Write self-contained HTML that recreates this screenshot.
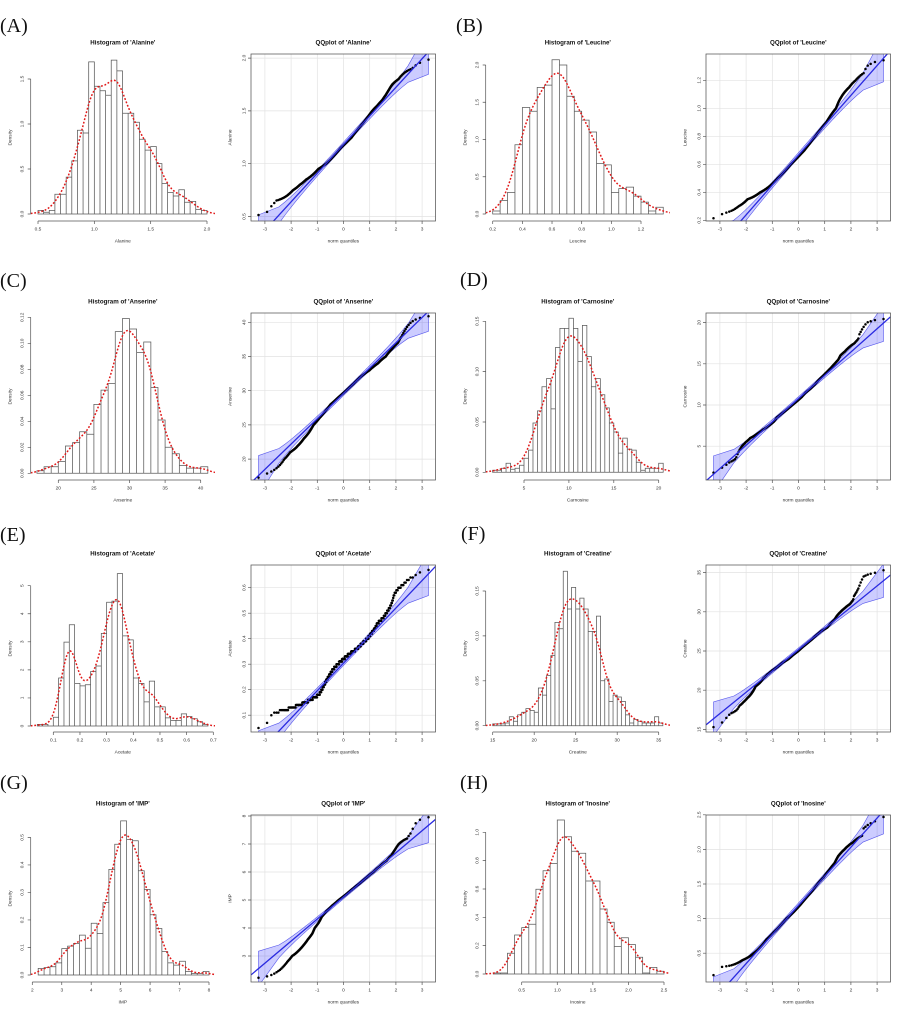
<!DOCTYPE html>
<html><head><meta charset="utf-8"><style>
html,body{margin:0;padding:0;background:#fff;}
svg{display:block;}
.t{font-family:"Liberation Sans",sans-serif;font-size:6.2px;font-weight:bold;text-anchor:middle;fill:#111;}
.k text{font-family:"Liberation Sans",sans-serif;font-size:4.8px;text-anchor:middle;fill:#333;}
.p{font-family:"Liberation Serif",serif;font-size:20px;fill:#111;}
</style></head><body>
<svg id="S" width="910" height="1024" viewBox="0 0 910 1024" xmlns="http://www.w3.org/2000/svg">
<defs>
<clipPath id="qqc" clipPathUnits="userSpaceOnUse"><rect x="251" y="54" width="184.5" height="167"/></clipPath>
<clipPath id="hc" clipPathUnits="userSpaceOnUse"><rect x="30.7" y="54" width="184.3" height="167"/></clipPath>
</defs>
<rect width="910" height="1024" fill="#fff"/>
<text class="p" x="0" y="32">(A)</text>
<text class="p" x="456" y="32">(B)</text>
<text class="p" x="0" y="287">(C)</text>
<text class="p" x="460" y="286">(D)</text>
<text class="p" x="0" y="541">(E)</text>
<text class="p" x="461" y="540">(F)</text>
<text class="p" x="0" y="789">(G)</text>
<text class="p" x="460" y="789">(H)</text>

<!-- A -->
<g transform="translate(0,0)">
<g id="pA"></g>
<text class="t" x="122.8" y="44.5">Histogram of 'Alanine'</text>
<text class="t" x="343.3" y="44.5">QQplot of 'Alanine'</text>
<g class="k">
<text x="38" y="230.7">0.5</text><text x="94.3" y="230.7">1.0</text><text x="150.7" y="230.7">1.5</text><text x="207" y="230.7">2.0</text>
<text x="122.8" y="242.7">Alanine</text>
<text transform="translate(23.7,214) rotate(-90)">0.0</text><text transform="translate(23.7,169) rotate(-90)">0.5</text><text transform="translate(23.7,124) rotate(-90)">1.0</text><text transform="translate(23.7,79) rotate(-90)">1.5</text>
<text transform="translate(11.7,137.5) rotate(-90)">Density</text>
<text x="264.9" y="230.7">-3</text><text x="291.1" y="230.7">-2</text><text x="317.3" y="230.7">-1</text><text x="343.5" y="230.7">0</text><text x="369.7" y="230.7">1</text><text x="395.9" y="230.7">2</text><text x="422.1" y="230.7">3</text>
<text x="343.3" y="242.7">norm quantiles</text>
<text transform="translate(245.7,216.5) rotate(-90)">0.5</text><text transform="translate(245.7,163.7) rotate(-90)">1.0</text><text transform="translate(245.7,110.9) rotate(-90)">1.5</text><text transform="translate(245.7,58.1) rotate(-90)">2.0</text>
<text transform="translate(231.7,137.5) rotate(-90)">Alanine</text>
</g></g>

<!-- B -->
<g transform="translate(455,0)">
<g id="pB"></g>
<text class="t" x="122.8" y="44.5">Histogram of 'Leucine'</text>
<text class="t" x="343.3" y="44.5">QQplot of 'Leucine'</text>
<g class="k">
<text x="37.7" y="230.7">0.2</text><text x="67.4" y="230.7">0.4</text><text x="97" y="230.7">0.6</text><text x="126.7" y="230.7">0.8</text><text x="156.3" y="230.7">1.0</text><text x="186" y="230.7">1.2</text>
<text x="122.8" y="242.7">Leucine</text>
<text transform="translate(23.7,214) rotate(-90)">0.0</text><text transform="translate(23.7,176.8) rotate(-90)">0.5</text><text transform="translate(23.7,139.5) rotate(-90)">1.0</text><text transform="translate(23.7,102.3) rotate(-90)">1.5</text><text transform="translate(23.7,65) rotate(-90)">2.0</text>
<text transform="translate(11.7,137.5) rotate(-90)">Density</text>
<text x="264.9" y="230.7">-3</text><text x="291.1" y="230.7">-2</text><text x="317.3" y="230.7">-1</text><text x="343.5" y="230.7">0</text><text x="369.7" y="230.7">1</text><text x="395.9" y="230.7">2</text><text x="422.1" y="230.7">3</text>
<text x="343.3" y="242.7">norm quantiles</text>
<text transform="translate(245.7,220.3) rotate(-90)">0.2</text><text transform="translate(245.7,192.3) rotate(-90)">0.4</text><text transform="translate(245.7,164.3) rotate(-90)">0.6</text><text transform="translate(245.7,136.3) rotate(-90)">0.8</text><text transform="translate(245.7,108.3) rotate(-90)">1.0</text><text transform="translate(245.7,80.3) rotate(-90)">1.2</text>
<text transform="translate(231.7,137.5) rotate(-90)">Leucine</text>
</g></g>

<!-- C -->
<g transform="translate(0,259)">
<g id="pC"></g>
<text class="t" x="122.8" y="44.5">Histogram of 'Anserine'</text>
<text class="t" x="343.3" y="44.5">QQplot of 'Anserine'</text>
<g class="k">
<text x="58.3" y="230.7">20</text><text x="93.9" y="230.7">25</text><text x="129.5" y="230.7">30</text><text x="165.1" y="230.7">35</text><text x="200.7" y="230.7">40</text>
<text x="122.8" y="242.7">Anserine</text>
<text transform="translate(23.7,214.3) rotate(-90)">0.00</text><text transform="translate(23.7,188.3) rotate(-90)">0.02</text><text transform="translate(23.7,162.3) rotate(-90)">0.04</text><text transform="translate(23.7,136.3) rotate(-90)">0.06</text><text transform="translate(23.7,110.3) rotate(-90)">0.08</text><text transform="translate(23.7,84.3) rotate(-90)">0.10</text><text transform="translate(23.7,58.3) rotate(-90)">0.12</text>
<text transform="translate(11.7,137.5) rotate(-90)">Density</text>
<text x="264.9" y="230.7">-3</text><text x="291.1" y="230.7">-2</text><text x="317.3" y="230.7">-1</text><text x="343.5" y="230.7">0</text><text x="369.7" y="230.7">1</text><text x="395.9" y="230.7">2</text><text x="422.1" y="230.7">3</text>
<text x="343.3" y="242.7">norm quantiles</text>
<text transform="translate(245.7,200.1) rotate(-90)">20</text><text transform="translate(245.7,165.9) rotate(-90)">25</text><text transform="translate(245.7,131.7) rotate(-90)">30</text><text transform="translate(245.7,97.5) rotate(-90)">35</text><text transform="translate(245.7,63.3) rotate(-90)">40</text>
<text transform="translate(231.7,137.5) rotate(-90)">Anserine</text>
</g></g>

<!-- D -->
<g transform="translate(455,259)">
<g id="pD"></g>
<text class="t" x="122.8" y="44.5">Histogram of 'Carnosine'</text>
<text class="t" x="343.3" y="44.5">QQplot of 'Carnosine'</text>
<g class="k">
<text x="69" y="230.7">5</text><text x="113.9" y="230.7">10</text><text x="158.8" y="230.7">15</text><text x="203.7" y="230.7">20</text>
<text x="122.8" y="242.7">Carnosine</text>
<text transform="translate(23.7,213.3) rotate(-90)">0.00</text><text transform="translate(23.7,162.9) rotate(-90)">0.05</text><text transform="translate(23.7,112.6) rotate(-90)">0.10</text><text transform="translate(23.7,62.3) rotate(-90)">0.15</text>
<text transform="translate(11.7,137.5) rotate(-90)">Density</text>
<text x="264.9" y="230.7">-3</text><text x="291.1" y="230.7">-2</text><text x="317.3" y="230.7">-1</text><text x="343.5" y="230.7">0</text><text x="369.7" y="230.7">1</text><text x="395.9" y="230.7">2</text><text x="422.1" y="230.7">3</text>
<text x="343.3" y="242.7">norm quantiles</text>
<text transform="translate(245.7,187.2) rotate(-90)">5</text><text transform="translate(245.7,146) rotate(-90)">10</text><text transform="translate(245.7,104.8) rotate(-90)">15</text><text transform="translate(245.7,63.6) rotate(-90)">20</text>
<text transform="translate(231.7,137.5) rotate(-90)">Carnosine</text>
</g></g>

<!-- E -->
<g transform="translate(0,511)">
<g id="pE"></g>
<text class="t" x="122.8" y="44.5">Histogram of 'Acetate'</text>
<text class="t" x="343.3" y="44.5">QQplot of 'Acetate'</text>
<g class="k">
<text x="53.3" y="230.7">0.1</text><text x="80" y="230.7">0.2</text><text x="106.6" y="230.7">0.3</text><text x="133.3" y="230.7">0.4</text><text x="160" y="230.7">0.5</text><text x="186.7" y="230.7">0.6</text><text x="213.3" y="230.7">0.7</text>
<text x="122.8" y="242.7">Acetate</text>
<text transform="translate(23.7,215) rotate(-90)">0</text><text transform="translate(23.7,186.9) rotate(-90)">1</text><text transform="translate(23.7,158.9) rotate(-90)">2</text><text transform="translate(23.7,130.8) rotate(-90)">3</text><text transform="translate(23.7,102.8) rotate(-90)">4</text><text transform="translate(23.7,74.7) rotate(-90)">5</text>
<text transform="translate(11.7,137.5) rotate(-90)">Density</text>
<text x="264.9" y="230.7">-3</text><text x="291.1" y="230.7">-2</text><text x="317.3" y="230.7">-1</text><text x="343.5" y="230.7">0</text><text x="369.7" y="230.7">1</text><text x="395.9" y="230.7">2</text><text x="422.1" y="230.7">3</text>
<text x="343.3" y="242.7">norm quantiles</text>
<text transform="translate(245.7,204.2) rotate(-90)">0.1</text><text transform="translate(245.7,178.7) rotate(-90)">0.2</text><text transform="translate(245.7,153.2) rotate(-90)">0.3</text><text transform="translate(245.7,127.7) rotate(-90)">0.4</text><text transform="translate(245.7,102.2) rotate(-90)">0.5</text><text transform="translate(245.7,76.7) rotate(-90)">0.6</text>
<text transform="translate(231.7,137.5) rotate(-90)">Acetate</text>
</g></g>

<!-- F -->
<g transform="translate(455,511)">
<g id="pF"></g>
<text class="t" x="122.8" y="44.5">Histogram of 'Creatine'</text>
<text class="t" x="343.3" y="44.5">QQplot of 'Creatine'</text>
<g class="k">
<text x="37.7" y="230.7">15</text><text x="79.2" y="230.7">20</text><text x="120.7" y="230.7">25</text><text x="162.2" y="230.7">30</text><text x="203.7" y="230.7">35</text>
<text x="122.8" y="242.7">Creatine</text>
<text transform="translate(23.7,214.7) rotate(-90)">0.00</text><text transform="translate(23.7,169.8) rotate(-90)">0.05</text><text transform="translate(23.7,124.9) rotate(-90)">0.10</text><text transform="translate(23.7,80) rotate(-90)">0.15</text>
<text transform="translate(11.7,137.5) rotate(-90)">Density</text>
<text x="264.9" y="230.7">-3</text><text x="291.1" y="230.7">-2</text><text x="317.3" y="230.7">-1</text><text x="343.5" y="230.7">0</text><text x="369.7" y="230.7">1</text><text x="395.9" y="230.7">2</text><text x="422.1" y="230.7">3</text>
<text x="343.3" y="242.7">norm quantiles</text>
<text transform="translate(245.7,218.4) rotate(-90)">15</text><text transform="translate(245.7,179.2) rotate(-90)">20</text><text transform="translate(245.7,140) rotate(-90)">25</text><text transform="translate(245.7,100.8) rotate(-90)">30</text><text transform="translate(245.7,61.6) rotate(-90)">35</text>
<text transform="translate(231.7,137.5) rotate(-90)">Creatine</text>
</g></g>

<!-- G -->
<g transform="translate(0,761)">
<g id="pG"></g>
<text class="t" x="122.8" y="44.5">Histogram of 'IMP'</text>
<text class="t" x="343.3" y="44.5">QQplot of 'IMP'</text>
<g class="k">
<text x="32.3" y="230.7">2</text><text x="61.8" y="230.7">3</text><text x="91.2" y="230.7">4</text><text x="120.7" y="230.7">5</text><text x="150.1" y="230.7">6</text><text x="179.6" y="230.7">7</text><text x="209" y="230.7">8</text>
<text x="122.8" y="242.7">IMP</text>
<text transform="translate(23.7,214) rotate(-90)">0.0</text><text transform="translate(23.7,186.5) rotate(-90)">0.1</text><text transform="translate(23.7,158.9) rotate(-90)">0.2</text><text transform="translate(23.7,131.4) rotate(-90)">0.3</text><text transform="translate(23.7,103.9) rotate(-90)">0.4</text><text transform="translate(23.7,76.4) rotate(-90)">0.5</text>
<text transform="translate(11.7,137.5) rotate(-90)">Density</text>
<text x="264.9" y="230.7">-3</text><text x="291.1" y="230.7">-2</text><text x="317.3" y="230.7">-1</text><text x="343.5" y="230.7">0</text><text x="369.7" y="230.7">1</text><text x="395.9" y="230.7">2</text><text x="422.1" y="230.7">3</text>
<text x="343.3" y="242.7">norm quantiles</text>
<text transform="translate(245.7,195) rotate(-90)">3</text><text transform="translate(245.7,167) rotate(-90)">4</text><text transform="translate(245.7,139) rotate(-90)">5</text><text transform="translate(245.7,111) rotate(-90)">6</text><text transform="translate(245.7,83) rotate(-90)">7</text><text transform="translate(245.7,55) rotate(-90)">8</text>
<text transform="translate(231.7,137.5) rotate(-90)">IMP</text>
</g></g>

<!-- H -->
<g transform="translate(455,761)">
<g id="pH"></g>
<text class="t" x="122.8" y="44.5">Histogram of 'Inosine'</text>
<text class="t" x="343.3" y="44.5">QQplot of 'Inosine'</text>
<g class="k">
<text x="66.7" y="230.7">0.5</text><text x="102.3" y="230.7">1.0</text><text x="137.9" y="230.7">1.5</text><text x="173.4" y="230.7">2.0</text><text x="209" y="230.7">2.5</text>
<text x="122.8" y="242.7">Inosine</text>
<text transform="translate(23.7,213) rotate(-90)">0.0</text><text transform="translate(23.7,184.7) rotate(-90)">0.2</text><text transform="translate(23.7,156.3) rotate(-90)">0.4</text><text transform="translate(23.7,128) rotate(-90)">0.6</text><text transform="translate(23.7,99.6) rotate(-90)">0.8</text><text transform="translate(23.7,71.3) rotate(-90)">1.0</text>
<text transform="translate(11.7,137.5) rotate(-90)">Density</text>
<text x="264.9" y="230.7">-3</text><text x="291.1" y="230.7">-2</text><text x="317.3" y="230.7">-1</text><text x="343.5" y="230.7">0</text><text x="369.7" y="230.7">1</text><text x="395.9" y="230.7">2</text><text x="422.1" y="230.7">3</text>
<text x="343.3" y="242.7">norm quantiles</text>
<text transform="translate(245.7,192.2) rotate(-90)">0.5</text><text transform="translate(245.7,157.6) rotate(-90)">1.0</text><text transform="translate(245.7,123) rotate(-90)">1.5</text><text transform="translate(245.7,88.4) rotate(-90)">2.0</text><text transform="translate(245.7,53.8) rotate(-90)">2.5</text>
<text transform="translate(231.7,137.5) rotate(-90)">Inosine</text>
</g></g>
</svg>
<script>
(function(){
var NS='http://www.w3.org/2000/svg';
function el(t,a,p){var e=document.createElementNS(NS,t);for(var k in a)e.setAttribute(k,a[k]);p.appendChild(e);return e;}
function lin(v0,p0,v1,p1){var s=(p1-p0)/(v1-v0);return function(v){return p0+(v-v0)*s;};}
function qnorm(p){
var a=[-3.969683028665376e+01,2.209460984245205e+02,-2.759285104469687e+02,1.383577518672690e+02,-3.066479806614716e+01,2.506628277459239e+00];
var b=[-5.447609879822406e+01,1.615858368580409e+02,-1.556989798598866e+02,6.680131188771972e+01,-1.328068155288572e+01];
var c=[-7.784894002430293e-03,-3.223964580411365e-01,-2.400758277161838e+00,-2.549732539343734e+00,4.374664141464968e+00,2.938163982698783e+00];
var d=[7.784695709041462e-03,3.224671290700398e-01,2.445134137142996e+00,3.754408661907416e+00];
var pl=0.02425,q,r;
if(p<pl){q=Math.sqrt(-2*Math.log(p));return (((((c[0]*q+c[1])*q+c[2])*q+c[3])*q+c[4])*q+c[5])/((((d[0]*q+d[1])*q+d[2])*q+d[3])*q+1);}
if(p>1-pl){q=Math.sqrt(-2*Math.log(1-p));return -(((((c[0]*q+c[1])*q+c[2])*q+c[3])*q+c[4])*q+c[5])/((((d[0]*q+d[1])*q+d[2])*q+d[3])*q+1);}
q=p-0.5;r=q*q;return (((((a[0]*r+a[1])*r+a[2])*r+a[3])*r+a[4])*r+a[5])*q/(((((b[0]*r+b[1])*r+b[2])*r+b[3])*r+b[4])*r+1);}
function dnorm(z){return Math.exp(-0.5*z*z)/Math.sqrt(2*Math.PI);}
var P=[
{id:'pA',hx:[0.5,38,2.0,207],hy:[0,214,1.5,79],qy:[1.0,163.7,2.0,58.1],hxt:[0.5,1,1.5,2],hyt:[0,0.5,1,1.5],qyt:[0.5,1,1.5,2],st:0.5,bw:0.05,s:0.065,
 d:[0.04,0.02,0.04,0.22,0.22,0.41,0.59,0.93,0.90,1.69,1.42,1.37,1.32,1.71,1.59,1.12,1.12,1.02,0.83,0.71,0.75,0.56,0.34,0.24,0.20,0.27,0.13,0.14,0.05,0.04]},
{id:'pB',hx:[0.2,37.7,1.2,186],hy:[0,214,2,65],qy:[0.6,164.3,1.2,80.3],hxt:[0.2,0.4,0.6,0.8,1,1.2],hyt:[0,0.5,1,1.5,2],qyt:[0.2,0.4,0.6,0.8,1,1.2],st:0.2,bw:0.05,s:0.06,
 d:[0.04,0.18,0.29,0.93,1.43,1.38,1.70,1.73,2.07,2.00,1.58,1.38,1.26,1.10,0.68,0.66,0.29,0.34,0.36,0.24,0.16,0.04,0.09]},
{id:'pC',hx:[20,58.3,40,200.7],hy:[0,214.3,0.12,58.3],qy:[30,131.7,40,63.3],hxt:[20,25,30,35,40],hyt:[0,0.02,0.04,0.06,0.08,0.1,0.12],qyt:[20,25,30,35,40],st:17,bw:1,s:1.0,
 d:[0.002,0.005,0.005,0.009,0.021,0.0236,0.032,0.030,0.053,0.064,0.069,0.109,0.119,0.111,0.093,0.101,0.066,0.041,0.020,0.015,0.006,0.004,0.004,0.005]},
{id:'pD',hx:[5,69,20,203.7],hy:[0,213.3,0.15,62.3],qy:[10,146,20,63.6],hxt:[5,10,15,20],hyt:[0,0.05,0.1,0.15],qyt:[5,10,15,20],st:1.5,bw:0.5,s:0.9,
 d:[.002,.002,.004,.009,.003,.004,.007,.014,.022,.049,.061,.085,.093,.063,.124,.143,.143,.153,.143,.110,.146,.115,.085,.093,.077,.064,.049,.040,.019,.034,.023,.022,.010,.002,.004,.004,.004,.009]},
{id:'pE',hx:[0.1,53.3,0.7,213.3],hy:[0,215,5,74.7],qy:[0.4,127.7,0.6,76.7],hxt:[0.1,0.2,0.3,0.4,0.5,0.6,0.7],hyt:[0,1,2,3,4,5],qyt:[0.1,0.2,0.3,0.4,0.5,0.6],st:0.04,bw:0.02,s:0.022,rd:0.01,
 d:[0.06,0.06,0,0.31,1.71,2.99,3.61,1.52,1.43,1.47,1.94,2.14,3.30,4.41,4.45,5.43,3.21,3.07,1.71,1.52,0.86,1.60,0.68,0.68,0.29,0.20,0.20,0.43,0.34,0.26,0.15,0.06]},
{id:'pF',hx:[15,37.7,35,203.7],hy:[0,214.7,0.15,80],qy:[25,140,35,61.6],hxt:[15,20,25,30,35],hyt:[0,0.05,0.1,0.15],qyt:[15,20,25,30,35],st:15,bw:0.5,s:0.8,
 d:[.002,.002,.002,.003,.010,.005,.012,.015,.019,.017,.015,.042,.034,.056,.078,.115,.108,.172,.130,.154,.130,.142,.130,.105,.105,.122,.050,.052,.027,.034,.032,.027,.012,.003,.007,.005,.003,.003,.003,.010,.003]},
{id:'pG',hx:[2,32.3,8,209],hy:[0,214,0.5,76.4],qy:[5,139,8,55],hxt:[2,3,4,5,6,7,8],hyt:[0,0.1,0.2,0.3,0.4,0.5],qyt:[3,4,5,6,7,8],st:2.2,bw:0.2,s:0.2,
 d:[0.024,0.027,0.030,0.044,0.096,0.105,0.115,0.145,0.097,0.188,0.151,0.263,0.384,0.475,0.560,0.493,0.488,0.379,0.311,0.219,0.169,0.085,0.044,0.036,0.050,0.013,0.006,0.006,0.013]},
{id:'pH',hx:[0.5,66.7,2.5,209],hy:[0,213,1,71.3],qy:[1.5,123,2.5,53.8],hxt:[0.5,1,1.5,2,2.5],hyt:[0,0.2,0.4,0.6,0.8,1],qyt:[0.5,1,1.5,2,2.5],st:0.1,bw:0.1,s:0.1,
 d:[0.007,0.007,0.146,0.275,0.327,0.351,0.598,0.729,0.779,1.087,0.969,0.866,0.852,0.656,0.656,0.459,0.365,0.193,0.256,0.207,0.118,0.007,0.047,0.019]}
];
var N=850, AX='#555';
P.forEach(function(c){
 var g=document.getElementById(c.id);
 var hx=lin.apply(null,c.hx),hy=lin.apply(null,c.hy),qy=lin.apply(null,c.qy),qx=lin(0,343.5,1,369.7);
 var hxs=(c.hx[3]-c.hx[1])/(c.hx[2]-c.hx[0]);
 var tot=0;c.d.forEach(function(v){tot+=v;});
 var pth='',y0=hy(0);
 c.d.forEach(function(h,i){var x0=hx(c.st+i*c.bw),x1=hx(c.st+(i+1)*c.bw),y=hy(h);pth+='M'+x0.toFixed(2)+','+y0.toFixed(2)+'V'+y.toFixed(2)+'H'+x1.toFixed(2)+'V'+y0.toFixed(2)+'Z';});
 el('path',{d:pth,fill:'none',stroke:'#5a5a5a','stroke-width':0.75},g);
 var dp='';
 for(var k=0;k<=200;k++){
  var px=30.7+k*184.3/200, v=c.hx[0]+(px-c.hx[1])/hxs, f=0;
  for(var i=0;i<c.d.length;i++){var cc=c.st+(i+0.5)*c.bw,z=(v-cc)/c.s;f+=c.d[i]/tot*Math.exp(-0.5*z*z);}
  f=f/(c.s*Math.sqrt(2*Math.PI));
  dp+=(k?'L':'M')+px.toFixed(2)+','+hy(f).toFixed(2);
 }
 el('path',{d:dp,fill:'none',stroke:'#e01818','stroke-width':1.5,'stroke-dasharray':'1.8,1.8','clip-path':'url(#hc)'},g);
 var ax='M30.7,'+hy(c.hyt[0])+'V'+hy(c.hyt[c.hyt.length-1]);
 c.hyt.forEach(function(t){ax+='M30.7,'+hy(t)+'H27.7';});
 ax+='M'+hx(c.hxt[0])+',221H'+hx(c.hxt[c.hxt.length-1]);
 c.hxt.forEach(function(t){ax+='M'+hx(t)+',221V224';});
 el('path',{d:ax,fill:'none',stroke:AX,'stroke-width':0.7},g);
 var gr='';
 for(var q=-3;q<=3;q++)gr+='M'+qx(q)+',54V221';
 c.qyt.forEach(function(t){gr+='M251,'+qy(t)+'H435.5';});
 el('path',{d:gr,fill:'none',stroke:'#e2e2e2','stroke-width':0.7},g);
 function inv(p){var cum=0;for(var i=0;i<c.d.length;i++){var m=c.d[i]/tot;if(m>0&&cum+m>=p)return c.st+c.bw*(i+(p-cum)/m);cum+=m;}return c.st+c.bw*c.d.length;}
 var x25=inv(0.25),x75=inv(0.75),zq=0.6744898,sl=(x75-x25)/(2*zq),ic=x25+sl*zq;
 var qg=el('g',{'clip-path':'url(#qqc)'},g);
 var up=[],lo=[],p1=0.5/N,p2=1-0.5/N;
 for(var k=0;k<=160;k++){
  var p=p1+(p2-p1)*k/160,z=qnorm(p),se=sl/dnorm(z)*Math.sqrt(p*(1-p)/N),fit=ic+sl*z;
  up.push(qx(z).toFixed(2)+','+qy(fit+1.96*se).toFixed(2));lo.push(qx(z).toFixed(2)+','+qy(fit-1.96*se).toFixed(2));
 }
 el('polygon',{points:up.concat(lo.reverse()).join(' '),fill:'rgba(0,0,255,0.2)',stroke:'rgba(40,40,230,0.75)','stroke-width':0.6},qg);
 var pp='';
 for(var i=1;i<=N;i++){
  var p=(i-0.5)/N,z=qnorm(p),v=inv(p);
  if(c.rd)v=Math.round(v/c.rd)*c.rd;
  var X=qx(z),Y=qy(v);
  pp+='M'+(X-1.25).toFixed(2)+','+Y.toFixed(2)+'a1.25,1.25 0 1,0 2.5,0a1.25,1.25 0 1,0 -2.5,0';
 }
 el('path',{d:pp,fill:'#000'},qg);
 el('line',{x1:251,y1:qy(ic+sl*(-3.53)),x2:435.5,y2:qy(ic+sl*3.51),stroke:'#2a2ae0','stroke-width':1.3},qg);
 el('rect',{x:251,y:54,width:184.5,height:167,fill:'none',stroke:AX,'stroke-width':0.75},g);
 var tk='';
 for(var q=-3;q<=3;q++)tk+='M'+qx(q)+',221V224';
 c.qyt.forEach(function(t){tk+='M251,'+qy(t)+'H248';});
 el('path',{d:tk,fill:'none',stroke:AX,'stroke-width':0.7},g);
});
})();
</script>
</body></html>
